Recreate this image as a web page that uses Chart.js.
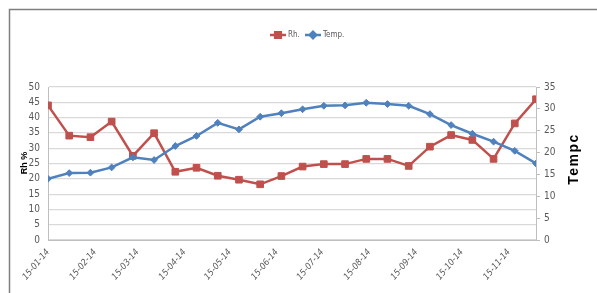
<!DOCTYPE html>
<html>
<head>
<meta charset="utf-8">
<script src="https://cdn.jsdelivr.net/npm/chart.js@4"></script>
<style>
    html, body { margin: 0; padding: 0; background: #fff; }
    #wrap { position: relative; width: 597px; height: 293px; }
</style>
</head>
<body>
<div id="wrap"><canvas id="climateChart" width="597" height="293"></canvas></div>
<script>
// Sampling dates (dd-mm-yy), two weeks apart
const sampleDates = ['15-01-14', '29-01-14', '12-02-14', '26-02-14', '12-03-14', '26-03-14',
    '09-04-14', '23-04-14', '07-05-14', '21-05-14', '04-06-14', '18-06-14',
    '02-07-14', '16-07-14', '30-07-14', '13-08-14', '27-08-14', '10-09-14',
    '24-09-14', '08-10-14', '22-10-14', '05-11-14', '19-11-14', '03-12-14'];

const rhValues = [44, 34.1, 33.6, 38.7, 27.5, 34.9, 22.3, 23.6, 21.0, 19.7, 18.2, 20.9,
    24.0, 24.8, 24.8, 26.5, 26.5, 24.2, 30.5, 34.3, 32.7, 26.5, 38.1, 46];

const tempValues = [14, 15.3, 15.4, 16.6, 18.9, 18.3, 21.5, 23.8, 26.8, 25.3, 28.2, 29.0,
    29.9, 30.7, 30.8, 31.4, 31.1, 30.7, 28.8, 26.3, 24.3, 22.5, 20.4, 17.5];

const tickDates = ['15-01-14', '15-02-14', '15-03-14', '15-04-14', '15-05-14', '15-06-14',
    '15-07-14', '15-08-14', '15-09-14', '15-10-14', '15-11-14'];

const seriesNames = ['Rh.', 'Temp.'];
const seriesColors = ['#c0504d', '#4f81bd'];

const narrowFont = '"Liberation Sans Narrow", "DejaVu Sans Condensed", Arial, sans-serif';

// day number counted from the first sample
function dayOf(str) {
    const p = str.split('-').map(Number);
    const t = Date.UTC(2000 + p[2], p[1] - 1, p[0]);
    const first = sampleDates[0].split('-').map(Number);
    return Math.round((t - Date.UTC(2000 + first[2], first[1] - 1, first[0])) / 86400000);
}

const tickDays = tickDates.map(dayOf);

const framePlugin = {
    id: 'frame',
    beforeDraw(chart) {
        const ctx = chart.ctx;
        ctx.save();
        ctx.strokeStyle = '#7f7f7f';
        ctx.lineWidth = 1.5;
        ctx.strokeRect(9.5, 9.5, 620, 320);
        ctx.restore();
    },
    afterDraw(chart) {
        const ctx = chart.ctx;
        ctx.save();
        // legend
        const items = [
            { x: 270, style: 'rect', r: 4 },
            { x: 305, style: 'rectRot', r: 3.2 }
        ];
        ctx.font = '8px ' + narrowFont;
        ctx.textBaseline = 'middle';
        items.forEach((it, i) => {
            ctx.strokeStyle = seriesColors[i];
            ctx.fillStyle = seriesColors[i];
            ctx.lineWidth = 2.5;
            ctx.beginPath();
            ctx.moveTo(it.x, 35);
            ctx.lineTo(it.x + 16, 35);
            ctx.stroke();
            Chart.helpers.drawPoint(ctx, { pointStyle: it.style, radius: it.r, borderWidth: 1 }, it.x + 8, 35);
            ctx.fillStyle = '#595959';
            ctx.fillText(seriesNames[i], it.x + 18, 35);
        });
        // axis titles
        ctx.fillStyle = '#000';
        ctx.textAlign = 'center';
        ctx.textBaseline = 'middle';
        ctx.font = 'bold 9px "Liberation Sans", Arial, sans-serif';
        ctx.translate(25, 163);
        ctx.rotate(-Math.PI / 2);
        ctx.fillText('Rh %', 0, 0);
        ctx.restore();

        ctx.save();
        ctx.fillStyle = '#000';
        ctx.textAlign = 'center';
        ctx.textBaseline = 'middle';
        ctx.font = 'bold 14px "Liberation Sans", Arial, sans-serif';
        ctx.letterSpacing = '1.5px';
        ctx.translate(574, 159);
        ctx.rotate(-Math.PI / 2);
        ctx.fillText('Tempc', 0, 0);
        ctx.restore();
    }
};

const tickFont = { family: narrowFont, size: 10 };

new Chart(document.getElementById('climateChart'), {
    type: 'line',
    data: {
        datasets: [
            {
                label: seriesNames[0],
                data: sampleDates.map((d, i) => ({ x: dayOf(d), y: rhValues[i] })),
                borderColor: seriesColors[0],
                backgroundColor: seriesColors[0],
                borderWidth: 2.5,
                pointStyle: 'rect',
                pointRadius: 4.7,
                pointBorderWidth: 1,
                yAxisID: 'y',
                order: 1
            },
            {
                label: seriesNames[1],
                data: sampleDates.map((d, i) => ({ x: dayOf(d), y: tempValues[i] })),
                borderColor: seriesColors[1],
                backgroundColor: seriesColors[1],
                borderWidth: 2.5,
                pointStyle: 'rectRot',
                pointRadius: 3.4,
                pointBorderWidth: 1,
                yAxisID: 'y1',
                order: 0
            }
        ]
    },
    options: {
        responsive: false,
        animation: false,
        layout: { padding: { top: 87, left: 0, right: 0, bottom: 0 } },
        plugins: {
            legend: { display: false },
            tooltip: { enabled: false }
        },
        scales: {
            x: {
                type: 'linear',
                min: 0,
                max: dayOf(sampleDates[sampleDates.length - 1]),
                afterBuildTicks: scale => {
                    scale.ticks = tickDays.map(v => ({ value: v }));
                },
                afterFit: scale => { scale.height = 53; },
                grid: { display: true, drawOnChartArea: false, drawTicks: false },
                border: { display: true, color: '#bfbfbf', width: 1 },
                ticks: {
                    autoSkip: false,
                    minRotation: 50,
                    maxRotation: 50,
                    padding: 7,
                    color: '#595959',
                    font: { family: narrowFont, size: 9, style: 'italic' },
                    callback: value => {
                        const idx = tickDays.indexOf(value);
                        return idx >= 0 ? tickDates[idx] : '';
                    }
                }
            },
            y: {
                position: 'left',
                min: 0,
                max: 50,
                afterFit: scale => { scale.width = 48; },
                grid: { color: '#d9d9d9', lineWidth: 1.2, drawTicks: false },
                border: { display: true, color: '#bfbfbf' },
                ticks: { stepSize: 5, padding: 8, color: '#595959', font: tickFont }
            },
            y1: {
                position: 'right',
                min: 0,
                max: 35,
                afterFit: scale => { scale.width = 61; },
                grid: { drawOnChartArea: false, tickLength: 4, color: '#bfbfbf' },
                border: { display: true, color: '#bfbfbf' },
                ticks: { stepSize: 5, padding: 4, color: '#595959', font: tickFont }
            }
        }
    },
    plugins: [framePlugin]
});
</script>
</body>
</html>
